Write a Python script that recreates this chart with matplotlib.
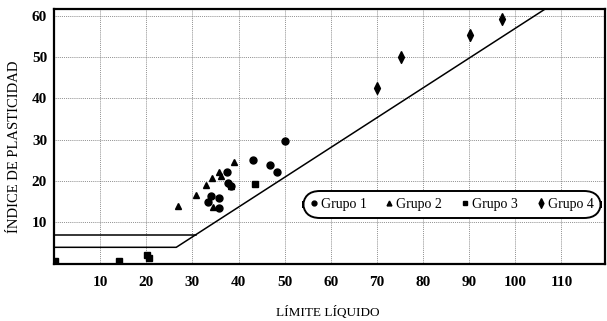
import matplotlib
matplotlib.use("Agg")
import matplotlib.pyplot as plt
from matplotlib.lines import Line2D

plt.rcParams['font.family'] = ['Liberation Serif', 'DejaVu Serif']

# Group 1 (circles)
g1_ll = [33.3, 34.1, 35.7, 35.7, 37.6, 37.8, 38.4, 43.2, 46.9, 48.3, 50.1]
g1_pi = [14.9, 16.4, 15.9, 13.5, 22.1, 19.5, 18.8, 25.1, 23.9, 22.1, 29.7]
# Group 2 (triangles)
g2_ll = [26.8, 30.8, 33.0, 34.2, 34.4, 35.7, 36.2, 38.4, 39.0]
g2_pi = [14.0, 16.7, 19.1, 20.7, 13.7, 22.1, 21.3, 18.8, 24.6]
# Group 3 (squares)
g3_ll = [0.3, 14.0, 20.1, 20.6, 43.5]
g3_pi = [0.6, 0.6, 2.2, 1.4, 19.3]
# Group 4 (diamonds)
g4_ll = [70.1, 75.2, 90.1, 97.2]
g4_pi = [42.6, 49.9, 55.3, 59.3]

# Plasticity chart reference lines
aline_ll = [0, 26.5, 106.5]
aline_pi = [4, 4, 61.6]
upper_ll = [0, 30.7]
upper_pi = [7, 7]

x_ticks = [10, 20, 30, 40, 50, 60, 70, 80, 90, 100, 110]
y_ticks = [10, 20, 30, 40, 50, 60]

# tall, narrow diamond marker
diamond = [(0, 1), (0.5, 0), (0, -1), (-0.5, 0), (0, 1)]

fig = plt.figure(figsize=(6.07, 3.21), dpi=100)
ax = fig.add_axes([0.089, 0.178, 0.908, 0.794])
ax.set_xlim(0, 119.5)
ax.set_ylim(0, 61.6)

ax.set_xticks(x_ticks)
ax.set_yticks(y_ticks)
ax.tick_params(length=0, labelsize=11)
ax.tick_params(axis='x', pad=9)
ax.tick_params(axis='y', pad=5)
for lbl in ax.get_xticklabels() + ax.get_yticklabels():
    lbl.set_fontweight('bold')

ax.grid(True, linestyle=(0, (1, 1.3)), color='#6e6e6e', linewidth=0.6)
ax.set_axisbelow(True)
for sp in ax.spines.values():
    sp.set_linewidth(1.6)
    sp.set_color('black')

ax.plot(aline_ll, aline_pi, color='black', linewidth=1.1, zorder=3)
ax.plot(upper_ll, upper_pi, color='black', linewidth=1.1, zorder=3)

ax.plot(g1_ll, g1_pi, 'o', color='black', markersize=5, zorder=4)
ax.plot(g2_ll, g2_pi, '^', color='black', markersize=4.5, zorder=4)
ax.plot(g3_ll, g3_pi, 's', color='black', markersize=4, zorder=4)
ax.plot(g4_ll, g4_pi, marker=diamond, linestyle='none', color='black',
        markersize=8.5, zorder=4)

handles = [
    Line2D([], [], marker='o', linestyle='none', color='black', markersize=3.5),
    Line2D([], [], marker='^', linestyle='none', color='black', markersize=3.5),
    Line2D([], [], marker='s', linestyle='none', color='black', markersize=3),
    Line2D([], [], marker=diamond, linestyle='none', color='black', markersize=7),
]
leg = ax.legend(handles, ['Grupo 1', 'Grupo 2', 'Grupo 3', 'Grupo 4'],
                ncol=4, loc='center', bbox_to_anchor=(0.722, 0.233),
                frameon=True, fancybox=True, fontsize=10,
                handlelength=0.5, handletextpad=0.25, columnspacing=1.4,
                borderpad=0.5, borderaxespad=0)
frame = leg.get_frame()
frame.set_edgecolor('black')
frame.set_linewidth(1.4)
frame.set_facecolor('white')
frame.set_alpha(1)
frame.set_boxstyle('round,pad=0,rounding_size=1.2')

ax.set_xlabel('LÍMITE LÍQUIDO', fontsize=9.5, va='center')
ax.xaxis.set_label_coords(0.497, -0.19)
ax.set_ylabel('ÍNDICE DE PLASTICIDAD', fontsize=10.5, va='center')
ax.yaxis.set_label_coords(-0.0724, 0.46)

fig.savefig('out.png', dpi=100)
